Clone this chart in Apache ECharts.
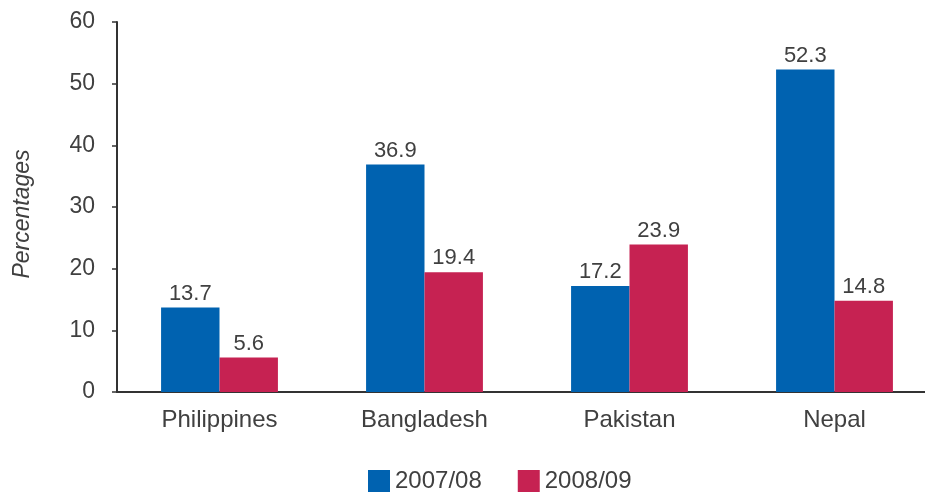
<!DOCTYPE html>
<html>
<head>
	<meta charset="utf-8">
	<title>Percentages by country</title>
	<script type="text/javascript" src="https://cdn.jsdelivr.net/npm/echarts@6/dist/echarts.min.js"></script>
	<style>
		html, body { margin: 0; padding: 0; background: #fff; }
	</style>
</head>
<body>
	<div style="height: 492px; width: 925px" id="main"></div>

	<script type="text/javascript">
		var categories = ['Philippines', 'Bangladesh', 'Pakistan', 'Nepal'];
		var series_names = ['2007/08', '2008/09'];
		var values_0708 = [13.7, 36.9, 17.2, 52.3];
		var values_0809 = [5.6, 19.4, 23.9, 14.8];
		var colors = ['#0062B0', '#C62252'];

		var textColor = '#404040';
		var fontFam = 'Arial, "Liberation Sans", sans-serif';

		var chart = echarts.init(document.getElementById('main'));

		var labelStyle = {
			show: true,
			position: 'top',
			distance: 3,
			color: textColor,
			fontSize: 22,
			fontFamily: fontFam
		};

		var option = {
			animation: false,
			color: colors,
			grid: {
				left: 117,
				top: 22,
				width: 820,
				bottom: 100,
				containLabel: false,
				outerBoundsMode: 'none'
			},
			legend: {
				top: 464,
				left: 363,
				itemWidth: 22,
				itemHeight: 22,
				itemGap: 36,
				icon: 'rect',
				textStyle: { color: textColor, fontSize: 24, fontFamily: fontFam },
				data: series_names
			},
			xAxis: {
				type: 'category',
				data: categories,
				axisLine: { lineStyle: { color: '#333', width: 2 } },
				axisTick: { length: 6, lineStyle: { color: '#333', width: 1.5 } },
				axisLabel: { color: textColor, fontSize: 24, fontFamily: fontFam, margin: 16 }
			},
			yAxis: {
				type: 'value',
				min: 0,
				max: 60,
				interval: 10,
				name: 'Percentages',
				nameLocation: 'middle',
				nameGap: 83,
				nameTextStyle: { color: textColor, fontSize: 23, fontStyle: 'italic', fontFamily: fontFam, padding: [0, 14, 0, 0] },
				splitLine: { show: false },
				axisLine: { show: true, lineStyle: { color: '#333', width: 2 } },
				axisTick: { show: true, length: 5, lineStyle: { color: '#333', width: 1.5 } },
				axisLabel: { color: textColor, fontSize: 23, fontFamily: fontFam, margin: 22 }
			},
			series: [
				{
					name: series_names[0],
					type: 'bar',
					data: values_0708,
					barGap: '0%',
					barCategoryGap: '43%',
					label: labelStyle
				},
				{
					name: series_names[1],
					type: 'bar',
					data: values_0809,
					label: labelStyle
				}
			]
		};

		chart.setOption(option);
	</script>
</body>
</html>
